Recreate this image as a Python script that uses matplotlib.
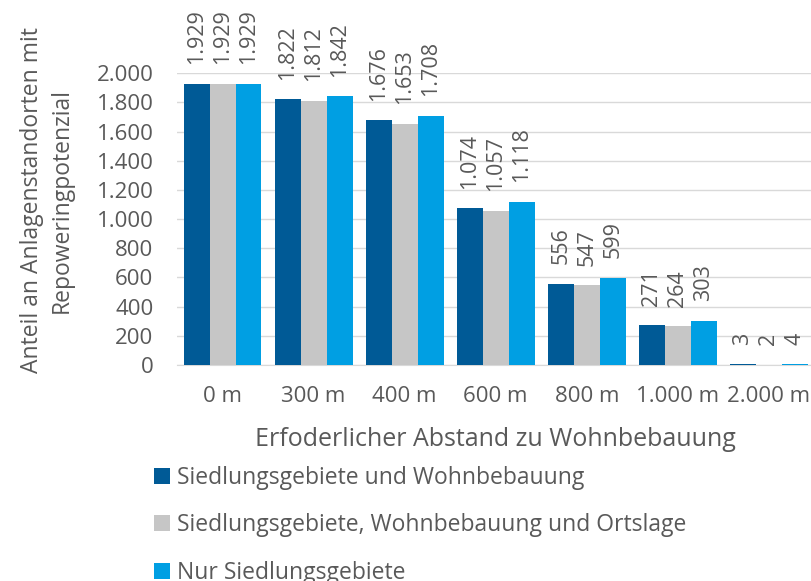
import matplotlib
matplotlib.use('Agg')
import matplotlib.pyplot as plt
import numpy as np
from matplotlib.ticker import FuncFormatter

plt.rcParams['font.family'] = ['Open Sans', 'DejaVu Sans']

# Daten
kategorien = ['0 m', '300 m', '400 m', '600 m', '800 m', '1.000 m', '2.000 m']
serie_namen = ['Siedlungsgebiete und Wohnbebauung',
               'Siedlungsgebiete, Wohnbebauung und Ortslage',
               'Nur Siedlungsgebiete']
wohnbebauung = [1929, 1822, 1676, 1074, 556, 271, 3]
ortslage = [1929, 1812, 1653, 1057, 547, 264, 2]
nur_siedlung = [1929, 1842, 1708, 1118, 599, 303, 4]
farben = ['#005A96', '#C6C6C6', '#009FE3']

text_farbe = '#595959'


def de_format(v, pos=None):
    return f'{int(v):,}'.replace(',', '.')


fig = plt.figure(figsize=(8.12, 5.81), dpi=100)
ax = fig.add_axes([0.218, 0.372, 0.785, 0.502])

x = np.arange(len(kategorien))
breite = 0.285
for i, (werte, name) in enumerate(zip([wohnbebauung, ortslage, nur_siedlung], serie_namen)):
    pos = x + (i - 1) * breite
    ax.bar(pos, werte, breite, color=farben[i], label=name, zorder=3)
    for p, v in zip(pos, werte):
        ax.annotate(de_format(v), (p, v), xytext=(0, 14), textcoords='offset points',
                    rotation=90, ha='center', va='bottom', fontsize=15.5,
                    color=text_farbe, annotation_clip=False)

ax.set_xlim(-0.5, len(kategorien) - 0.5)
ax.set_ylim(0, 2000)
ax.set_yticks(np.arange(0, 2001, 200))
ax.yaxis.set_major_formatter(FuncFormatter(de_format))
ax.set_xticks(x)
ax.set_xticklabels(kategorien)
ax.tick_params(axis='both', length=0, labelsize=16, colors=text_farbe)
ax.tick_params(axis='x', pad=15)
ax.tick_params(axis='y', pad=17)
ax.grid(axis='y', color='#D9D9D9', linewidth=1, zorder=0)
for s in ['top', 'right', 'left']:
    ax.spines[s].set_visible(False)
ax.spines['bottom'].set_color('#D9D9D9')

ax.set_xlabel('Erfoderlicher Abstand zu Wohnbebauung', fontsize=18, color=text_farbe)
ax.xaxis.set_label_coords(0.5, -0.212)
ax.set_ylabel('Anteil an Anlagenstandorten mit\nRepoweringpotenzial', fontsize=16.5,
              color=text_farbe, linespacing=1.3)
ax.yaxis.set_label_coords(-0.204, 0.565)
ax.yaxis.label.set_va('center')

fig.legend(loc='upper left', bbox_to_anchor=(0.19, 0.198), ncol=1, frameon=False,
           fontsize=16.5, labelcolor=text_farbe, handlelength=0.68, handleheight=0.68,
           handletextpad=0.3, labelspacing=1.02, borderaxespad=0, borderpad=0)

fig.savefig('out.png', dpi=100)
